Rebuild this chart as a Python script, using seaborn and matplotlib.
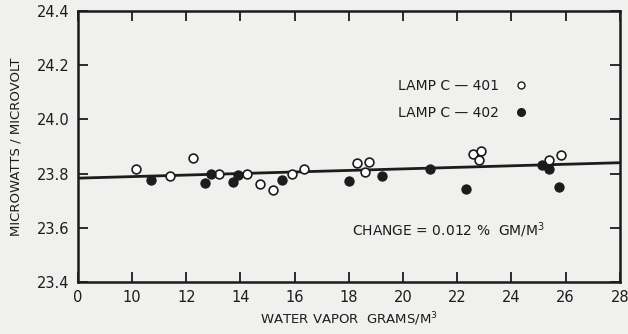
import numpy as np
import pandas as pd
import matplotlib
matplotlib.use("Agg")
import matplotlib.pyplot as plt
from matplotlib.lines import Line2D
import seaborn as sns

# open circles, lamp C-401
c401_x = [10.13, 11.40, 12.25, 13.21, 14.24, 14.71, 15.19, 15.90, 16.36,
          18.31, 18.73, 18.58, 22.58, 22.89, 22.82, 25.37, 25.84]
c401_y = [23.818, 23.791, 23.856, 23.797, 23.800, 23.763, 23.741, 23.800, 23.816,
          23.839, 23.844, 23.806, 23.872, 23.882, 23.850, 23.849, 23.870]

# filled circles, lamp C-402
c402_x = [10.70, 12.69, 12.91, 13.74, 13.92, 15.55, 18.00, 19.24, 20.98,
          22.31, 25.14, 25.38, 25.74]
c402_y = [23.775, 23.765, 23.799, 23.769, 23.796, 23.776, 23.773, 23.791, 23.817,
          23.744, 23.833, 23.818, 23.751]

# fitted line (0.012 % per gm/m3)
fit_x = [0, 28]
fit_y = [23.783, 23.840]

x_ticks = [0, 10, 12, 14, 16, 18, 20, 22, 24, 26, 28]
y_ticks = [23.4, 23.6, 23.8, 24.0, 24.2, 24.4]

# axis is broken: "0" sits one tick step left of 10
BREAK_POS = 8


def to_axis(x):
    x = np.asarray(x, dtype=float)
    return np.where(x < 10, BREAK_POS, x)


INK = "#1c1c1c"
BG = "#f0f0ef"

sns.set_style("ticks")
plt.rcParams["font.family"] = ["DejaVu Sans"]

pts = pd.concat([
    pd.DataFrame({"x": to_axis(c401_x), "y": c401_y, "lamp": "C-401"}),
    pd.DataFrame({"x": to_axis(c402_x), "y": c402_y, "lamp": "C-402"}),
])
line = pd.DataFrame({"x": to_axis(fit_x), "y": fit_y})

fig = plt.figure(figsize=(6.28, 3.34), dpi=100, facecolor=BG)
ax = fig.add_axes([0.124, 0.156, 0.863, 0.811], facecolor=BG)

sns.lineplot(data=line, x="x", y="y", ax=ax, color=INK, linewidth=2, zorder=2)
sns.scatterplot(data=pts[pts.lamp == "C-401"], x="x", y="y", ax=ax, marker="o",
                s=40, facecolor="white", edgecolor=INK, linewidth=1.2, zorder=3)
sns.scatterplot(data=pts[pts.lamp == "C-402"], x="x", y="y", ax=ax, marker="o",
                s=44, color=INK, edgecolor=INK, linewidth=0.8, zorder=3)

ax.set_xlim(BREAK_POS, 28)
ax.set_ylim(23.4, 24.4)
ax.set_xticks(to_axis(x_ticks))
ax.set_xticklabels([str(t) for t in x_ticks])
ax.set_yticks(y_ticks)
ax.set_yticklabels([f"{t:.1f}" for t in y_ticks])

ax.tick_params(axis="both", direction="in", length=7, width=1.3, colors=INK,
               labelsize=10.5, top=True, right=True, pad=6)
for s in ax.spines.values():
    s.set_visible(True)
    s.set_linewidth(1.8)
    s.set_color(INK)

ax.set_xlabel("WATER VAPOR  GRAMS/M$^3$", fontsize=9.5, color=INK, labelpad=4)
ax.set_ylabel("MICROWATTS / MICROVOLT", fontsize=9.5, color=INK, labelpad=10)

handles = [
    Line2D([], [], linestyle="none", marker="o", markersize=5,
           markerfacecolor="white", markeredgecolor=INK, markeredgewidth=1),
    Line2D([], [], linestyle="none", marker="o", markersize=5.5,
           markerfacecolor=INK, markeredgecolor=INK),
]
ax.legend(handles, ["LAMP C \u2014 401", "LAMP C \u2014 402"], markerfirst=False,
          frameon=False, fontsize=10, loc="upper left",
          bbox_to_anchor=(0.567, 0.795), handletextpad=0.6, labelspacing=0.9,
          labelcolor=INK)

ax.text(0.505, 0.19, "CHANGE = 0.012 %  GM/M$^3$", transform=ax.transAxes,
        fontsize=10, color=INK, va="center")

fig.savefig("out.png", dpi=100, facecolor=BG)
